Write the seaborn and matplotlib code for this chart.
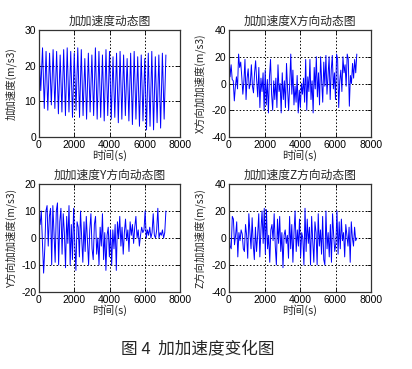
import numpy as np
import pandas as pd
import matplotlib
matplotlib.use("Agg")
import matplotlib.pyplot as plt
import seaborn as sns

# ---- data ----
total_vals = [24.5, 13, 25, 8, 24, 7.5, 23.5, 9, 24.5, 8, 24, 6.5, 23, 7, 24.5, 6,
              25, 7, 24, 5.5, 23.5, 7.5, 25, 5.5, 24.5, 6, 22, 5, 23.5, 7, 23, 6,
              25, 5, 24, 5.5, 23, 4.5, 24.5, 6, 24, 5, 22.5, 5.5, 23.5, 4, 24, 5,
              23, 6, 22, 4.5, 23.5, 3.5, 24, 5, 22.5, 3, 23, 4.5, 22, 2, 23.5, 3,
              24, 2, 22.5, 4, 23, 2.5, 23.5, 5, 23]
x_vals = [21, 5, 14, 3, 2, -13, -2, 5, -4, 22, 12, 16, 5, -8, 2, 18, -12,
          4, 11, -4, 0, 14, -2, -7, 8, 17, 2, -10, 12, -18, 4, -6, 8, -20,
          10, -16, 3, -22, 5, 18, -8, -20, 2, -12, 4, -18, 14, -6, 0, -22,
          8, -12, 2, -18, 15, -4, -20, 0, 22, -8, 10, -16, -2, -14, 6, -22,
          -5, -18, 0, -8, 4, -14, 18, -20, 5, -6, 18, -12, 2, -22, 12, -4,
          20, -10, 8, -16, 20, 2, -14, 16, -2, 21, -8, 6, 20, -12, 10, 21,
          -4, 8, -12, 22, 18, -18, 2, 10, -6, 20, 8, 14, -2, 22, 18, -17,
          6, 0, 15, 4, 18, 8, 22]
y_vals = [9, 5, 10, -2, -13, -4, 10, 12, -3, 8, 11, -10, 12, 2, -9, 10, 13, -10,
          6, 11, -6, 9, 2, -11, 8, -2, 12, -10, 5, -8, 11, -2, -12, 6,
          4, -7, 10, 0, -9, 6, -5, 8, -1, -10, 3, 9, -4, -8, 5,
          8, -6, 0, -10, 4, -3, 9, -8, 2, -12, 1, 4, -7, 3, -10,
          3, -4, 5, -12, 6, 0, 8, -3, 4, -6, 2, 7, -1, 3, -5,
          6, 1, 5, -2, 4, 8, 0, 3, -3, 1, 4, 2, 3, 10, 0,
          3, 1, 4, 0, 2, 9, 1, 0, 3, 11, 0, 2, 1, 3, 0, 2, 10]
z_vals = [5, -6, -8, 16, 14, -5, 2, 12, -14, 4, -2, 6, 3, -8, -10, 10, 2,
          -15, 18, 4, -8, 15, -5, -16, 8, -10, 2, 18, -14, 6, 20, -4, 22, -12,
          21, -8, 2, -18, 6, 10, -2, 18, -6, -20, 14, -4, 16, -10, 4, -22, 2,
          6, -4, 2, -15, 16, -8, 10, -18, 4, 20, -10, 6, -6, 14, -14, 4, 0,
          -20, 22, -10, 14, -4, 8, -20, 16, -2, -18, 12, 4, -20, 18, -6, 6,
          -12, 16, -16, -20, 20, -8, 4, -14, 10, -18, 18, 2, -10, -4, 20,
          -12, 12, -8, 14, -2, 4, -14, 10, 2, -6, 8, -18, 12, 0, -6, 8, -2, 0]
t_end = 7200

titles = ["加加速度动态图", "加加速度X方向动态图", "加加速度Y方向动态图", "加加速度Z方向动态图"]
ylabels = ["加加速度(m/s3)", "X方向加加速度(m/s3)", "Y方向加加速度(m/s3)", "Z方向加加速度(m/s3)"]
xlabel = "时间(s)"
caption = "图 4  加加速度变化图"
xticks = [0, 2000, 4000, 6000, 8000]
yticks_list = [[0, 10, 20, 30], [-40, -20, 0, 20, 40], [-20, -10, 0, 10, 20], [-40, -20, 0, 20, 40]]

sns.set_theme(style="white")
plt.rcParams['font.family'] = ['Noto Sans CJK SC', 'DejaVu Sans']
plt.rcParams['axes.unicode_minus'] = False

fig = plt.figure(figsize=(4.12, 3.69), dpi=100)
fig.patch.set_facecolor("white")

positions = [
    [39/412, 1-137/369, 141/412, 107/369],
    [229/412, 1-137/369, 142/412, 107/369],
    [39/412, 1-292/369, 141/412, 108/369],
    [229/412, 1-292/369, 142/412, 108/369],
]
series = [total_vals, x_vals, y_vals, z_vals]
label_x = [-0.155, -0.165, -0.155, -0.165]

for i in range(4):
    ax = fig.add_axes(positions[i])
    vals = series[i]
    df = pd.DataFrame({"t": np.linspace(0, t_end, len(vals)), "v": vals})
    sns.lineplot(data=df, x="t", y="v", ax=ax, color="#0000ff", linewidth=0.7, estimator=None)
    yt = yticks_list[i]
    ax.set_xlim(0, 8000)
    ax.set_ylim(yt[0], yt[-1])
    ax.set_xticks(xticks)
    ax.set_yticks(yt)
    ax.set_xticklabels([str(v) for v in xticks], fontsize=7.5, family=['Liberation Sans', 'DejaVu Sans'])
    ax.set_yticklabels([str(v) for v in yt], fontsize=7.5, family=['Liberation Sans', 'DejaVu Sans'])
    ax.tick_params(direction="in", length=3, width=0.6, pad=2, colors="black",
                   bottom=True, left=True, top=True, right=True)
    ax.grid(True, color="black", linestyle=(0, (1.5, 2)), linewidth=0.7)
    for s in ax.spines.values():
        s.set_color("#333333")
        s.set_linewidth(0.9)
    ax.set_title(titles[i], fontsize=8.5, pad=4)
    ax.set_xlabel(xlabel, fontsize=8, labelpad=0)
    ax.set_ylabel(ylabels[i], fontsize=7.5)
    ax.yaxis.set_label_coords(label_x[i], 0.5)

fig.text(198/412, 1-350/369, caption, ha="center", va="center", fontsize=12,
         family=['Noto Sans CJK SC', 'DejaVu Sans'])

fig.savefig("out.png", dpi=100, facecolor="white")
